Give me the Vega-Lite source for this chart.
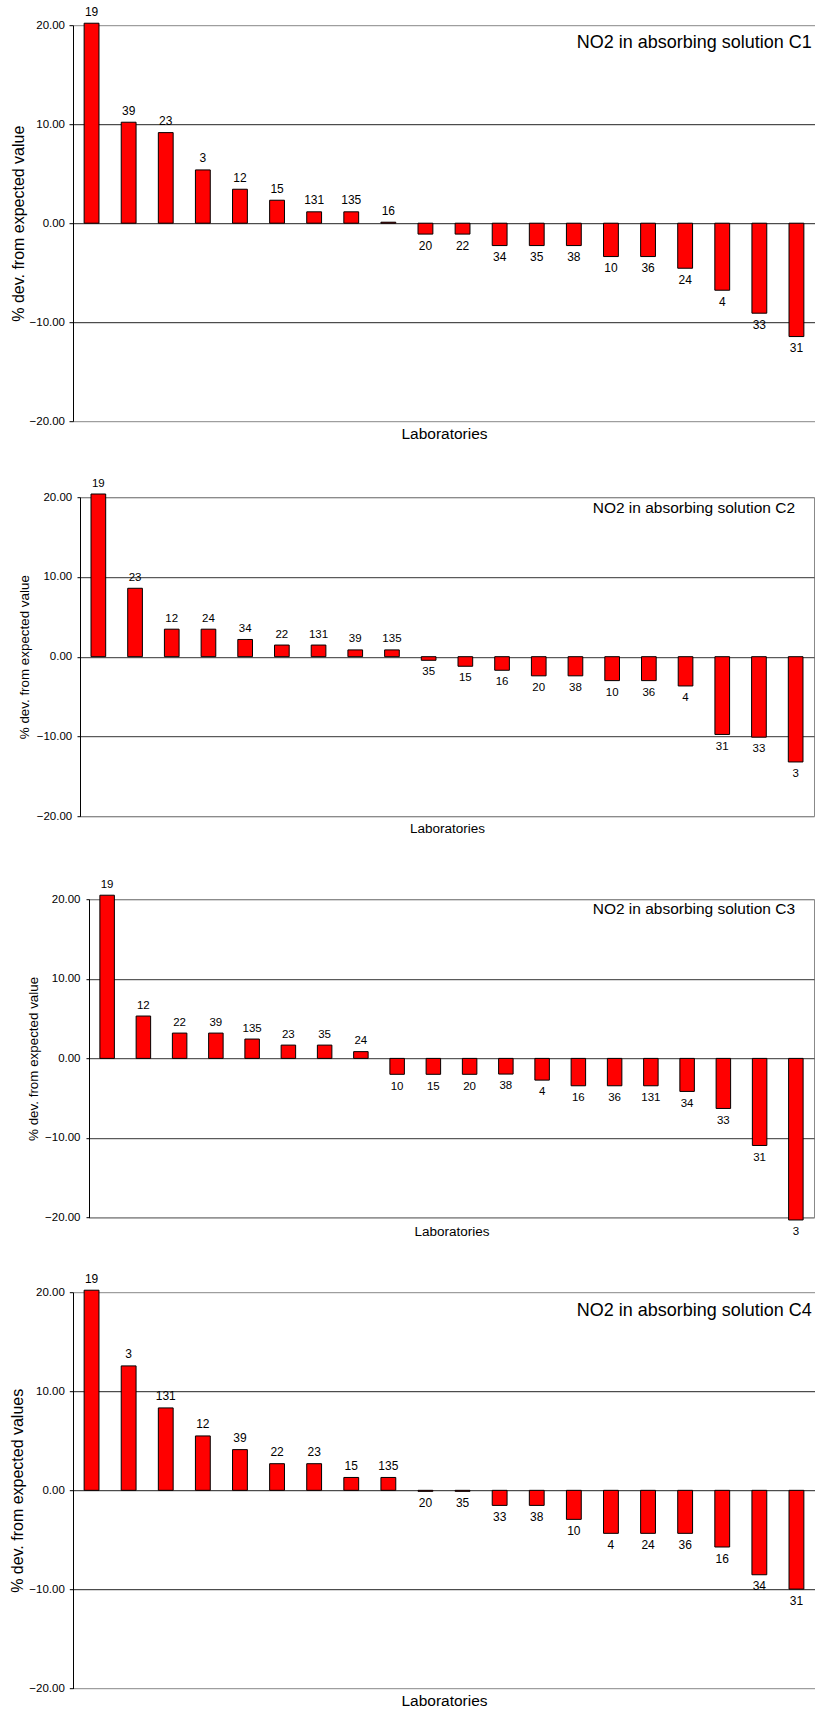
{
  "$schema": "https://vega.github.io/schema/vega-lite/v6.json",
  "background": "white",
  "padding": {"top": 5.2, "left": 0, "right": 0, "bottom": 0},
  "config": {"font": "Liberation Sans", "view": {"stroke": null}},
  "datasets": {
    "c1": [
      {"lab": "19", "dev": 20.2}, {"lab": "39", "dev": 10.2}, {"lab": "23", "dev": 9.15}, {"lab": "3", "dev": 5.38},
      {"lab": "12", "dev": 3.43}, {"lab": "15", "dev": 2.32}, {"lab": "131", "dev": 1.15}, {"lab": "135", "dev": 1.15},
      {"lab": "16", "dev": 0.1}, {"lab": "20", "dev": -1.1}, {"lab": "22", "dev": -1.1}, {"lab": "34", "dev": -2.26},
      {"lab": "35", "dev": -2.26}, {"lab": "38", "dev": -2.26}, {"lab": "10", "dev": -3.37}, {"lab": "36", "dev": -3.37},
      {"lab": "24", "dev": -4.55}, {"lab": "4", "dev": -6.77}, {"lab": "33", "dev": -9.09}, {"lab": "31", "dev": -11.45}
    ],
    "c2": [
      {"lab": "19", "dev": 20.4}, {"lab": "23", "dev": 8.58}, {"lab": "12", "dev": 3.45}, {"lab": "24", "dev": 3.45},
      {"lab": "34", "dev": 2.16}, {"lab": "22", "dev": 1.46}, {"lab": "131", "dev": 1.46}, {"lab": "39", "dev": 0.85},
      {"lab": "135", "dev": 0.85}, {"lab": "35", "dev": -0.45}, {"lab": "15", "dev": -1.2}, {"lab": "16", "dev": -1.7},
      {"lab": "20", "dev": -2.4}, {"lab": "38", "dev": -2.4}, {"lab": "10", "dev": -3.0}, {"lab": "36", "dev": -3.0},
      {"lab": "4", "dev": -3.67}, {"lab": "31", "dev": -9.75}, {"lab": "33", "dev": -10.09}, {"lab": "3", "dev": -13.2}
    ],
    "c3": [
      {"lab": "19", "dev": 20.5}, {"lab": "12", "dev": 5.32}, {"lab": "22", "dev": 3.18}, {"lab": "39", "dev": 3.18},
      {"lab": "135", "dev": 2.43}, {"lab": "23", "dev": 1.67}, {"lab": "35", "dev": 1.67}, {"lab": "24", "dev": 0.85},
      {"lab": "10", "dev": -2.0}, {"lab": "15", "dev": -2.0}, {"lab": "20", "dev": -2.0}, {"lab": "38", "dev": -1.97},
      {"lab": "4", "dev": -2.73}, {"lab": "16", "dev": -3.44}, {"lab": "36", "dev": -3.44}, {"lab": "131", "dev": -3.44},
      {"lab": "34", "dev": -4.15}, {"lab": "33", "dev": -6.29}, {"lab": "31", "dev": -10.94}, {"lab": "3", "dev": -20.3}
    ],
    "c4": [
      {"lab": "19", "dev": 20.2}, {"lab": "3", "dev": 12.56}, {"lab": "131", "dev": 8.32}, {"lab": "12", "dev": 5.49},
      {"lab": "39", "dev": 4.11}, {"lab": "22", "dev": 2.69}, {"lab": "23", "dev": 2.69}, {"lab": "15", "dev": 1.3},
      {"lab": "135", "dev": 1.3}, {"lab": "20", "dev": -0.1}, {"lab": "35", "dev": -0.1}, {"lab": "33", "dev": -1.52},
      {"lab": "38", "dev": -1.52}, {"lab": "10", "dev": -2.93}, {"lab": "4", "dev": -4.34}, {"lab": "24", "dev": -4.34},
      {"lab": "36", "dev": -4.34}, {"lab": "16", "dev": -5.72}, {"lab": "34", "dev": -8.52}, {"lab": "31", "dev": -9.97}
    ]
  },
  "spacing": 0,
  "vconcat": [
    {
      "spacing": 0,
      "hconcat": [
        {"width": 10, "height": 1, "view": {"fill": "white", "stroke": null}, "data": {"values": [{}]}, "mark": {"type": "rect", "opacity": 0}},
        {
          "width": 742, "height": 396,
          "data": {"name": "c1"},
          "title": {"text": "NO2 in absorbing solution C1", "frame": "group", "anchor": "end", "baseline": "middle", "offset": -55.4, "dx": -3.3, "fontSize": 18, "fontWeight": "normal", "color": "black"},
          "encoding": {
            "x": {"field": "lab", "type": "nominal", "sort": null, "scale": {"paddingInner": 0.6, "paddingOuter": 0.3},
              "axis": {"title": ["Laboratories", ""], "labels": false, "ticks": false, "domain": false, "grid": false, "titleFontSize": 15.5, "titleFontWeight": "normal", "titleColor": "black", "titleBaseline": "top", "titleY": 5.7, "titleLineHeight": 33.8}},
            "y": {"field": "dev", "type": "quantitative", "scale": {"domain": [-20, 20], "nice": false},
              "axis": {"title": "% dev. from expected value", "values": [-20, -10, 0, 10, 20], "format": ".2f", "labelFontSize": 11.5, "labelColor": "black", "labelPadding": 4.5, "tickSize": 4, "tickColor": "black", "domainColor": "black", "grid": true, "gridOpacity": 1, "gridColor": {"condition": {"test": "abs(datum.value) === 20", "value": "#888888"}, "value": "#222222"}, "titleFontSize": 16, "titleFontWeight": "normal", "titleColor": "black", "titleAngle": -90, "titleAlign": "center", "titleBaseline": "middle", "titleX": -55}}
          },
          "layer": [
            {"mark": {"type": "bar", "fill": "#ff0000", "stroke": "black", "strokeWidth": 1}},
            {"transform": [{"filter": "datum.dev >= 0"}], "mark": {"type": "text", "baseline": "alphabetic", "dy": -7.5, "fontSize": 12, "color": "black"}, "encoding": {"text": {"field": "lab"}}},
            {"transform": [{"filter": "datum.dev < 0"}], "mark": {"type": "text", "baseline": "alphabetic", "dy": 15.6, "fontSize": 12, "color": "black"}, "encoding": {"text": {"field": "lab"}}}
          ]
        }
      ]
    },
    {
      "spacing": 0,
      "hconcat": [
        {"width": 16.7, "height": 1, "view": {"fill": "white", "stroke": null}, "data": {"values": [{}]}, "mark": {"type": "rect", "opacity": 0}},
        {
          "width": 734, "height": 319,
          "data": {"name": "c2"},
          "view": {"stroke": "#888888", "strokeWidth": 1},
          "title": {"text": "NO2 in absorbing solution C2", "frame": "group", "anchor": "end", "baseline": "middle", "offset": -45.7, "dx": -19, "fontSize": 15.5, "fontWeight": "normal", "color": "black"},
          "encoding": {
            "x": {"field": "lab", "type": "nominal", "sort": null, "scale": {"paddingInner": 0.6, "paddingOuter": 0.3},
              "axis": {"title": ["Laboratories", ""], "labels": false, "ticks": false, "domain": false, "grid": false, "titleFontSize": 13.5, "titleFontWeight": "normal", "titleColor": "black", "titleBaseline": "top", "titleY": 5.8, "titleLineHeight": 41.85}},
            "y": {"field": "dev", "type": "quantitative", "scale": {"domain": [-20, 20], "nice": false},
              "axis": {"title": "% dev. from expected value", "values": [-20, -10, 0, 10, 20], "format": ".2f", "labelFontSize": 11.5, "labelColor": "black", "labelPadding": 5.3, "tickSize": 3, "tickColor": "black", "domainColor": "black", "grid": true, "gridOpacity": 1, "gridColor": {"condition": {"test": "abs(datum.value) === 20", "value": "#888888"}, "value": "#333333"}, "titleFontSize": 13.4, "titleFontWeight": "normal", "titleColor": "black", "titleAngle": -90, "titleAlign": "center", "titleBaseline": "middle", "titleX": -55.3}}
          },
          "layer": [
            {"mark": {"type": "bar", "fill": "#ff0000", "stroke": "black", "strokeWidth": 1}},
            {"transform": [{"filter": "datum.dev >= 0"}], "mark": {"type": "text", "baseline": "alphabetic", "dy": -7.5, "fontSize": 11.5, "color": "black"}, "encoding": {"text": {"field": "lab"}}},
            {"transform": [{"filter": "datum.dev < 0"}], "mark": {"type": "text", "baseline": "alphabetic", "dy": 15.2, "fontSize": 11.5, "color": "black"}, "encoding": {"text": {"field": "lab"}}}
          ]
        }
      ]
    },
    {
      "spacing": 0,
      "hconcat": [
        {"width": 25, "height": 1, "view": {"fill": "white", "stroke": null}, "data": {"values": [{}]}, "mark": {"type": "rect", "opacity": 0}},
        {
          "width": 725, "height": 318.4,
          "data": {"name": "c3"},
          "view": {"stroke": "#888888", "strokeWidth": 1},
          "title": {"text": "NO2 in absorbing solution C3", "frame": "group", "anchor": "end", "baseline": "middle", "offset": -45.9, "dx": -19, "fontSize": 15.5, "fontWeight": "normal", "color": "black"},
          "encoding": {
            "x": {"field": "lab", "type": "nominal", "sort": null, "scale": {"paddingInner": 0.6, "paddingOuter": 0.3},
              "axis": {"title": ["Laboratories", ""], "labels": false, "ticks": false, "domain": false, "grid": false, "titleFontSize": 13.5, "titleFontWeight": "normal", "titleColor": "black", "titleBaseline": "top", "titleY": 6.8, "titleLineHeight": 33.75}},
            "y": {"field": "dev", "type": "quantitative", "scale": {"domain": [-20, 20], "nice": false},
              "axis": {"title": "% dev. from expected value", "values": [-20, -10, 0, 10, 20], "format": ".2f", "labelFontSize": 11.5, "labelColor": "black", "labelPadding": 6, "tickSize": 3, "tickColor": "black", "domainColor": "black", "grid": true, "gridOpacity": 1, "gridColor": {"condition": {"test": "abs(datum.value) === 20", "value": "#888888"}, "value": "#333333"}, "titleFontSize": 13.4, "titleFontWeight": "normal", "titleColor": "black", "titleAngle": -90, "titleAlign": "center", "titleBaseline": "middle", "titleX": -56}}
          },
          "layer": [
            {"mark": {"type": "bar", "fill": "#ff0000", "stroke": "black", "strokeWidth": 1}},
            {"transform": [{"filter": "datum.dev >= 0"}], "mark": {"type": "text", "baseline": "alphabetic", "dy": -7.5, "fontSize": 11.5, "color": "black"}, "encoding": {"text": {"field": "lab"}}},
            {"transform": [{"filter": "datum.dev < 0"}], "mark": {"type": "text", "baseline": "alphabetic", "dy": 15.2, "fontSize": 11.5, "color": "black"}, "encoding": {"text": {"field": "lab"}}}
          ]
        }
      ]
    },
    {
      "spacing": 0,
      "hconcat": [
        {"width": 8.7, "height": 1, "view": {"fill": "white", "stroke": null}, "data": {"values": [{}]}, "mark": {"type": "rect", "opacity": 0}},
        {
          "width": 742, "height": 396.3,
          "data": {"name": "c4"},
          "title": {"text": "NO2 in absorbing solution C4", "frame": "group", "anchor": "end", "baseline": "middle", "offset": -56.3, "dx": -3.3, "fontSize": 18, "fontWeight": "normal", "color": "black"},
          "encoding": {
            "x": {"field": "lab", "type": "nominal", "sort": null, "scale": {"paddingInner": 0.6, "paddingOuter": 0.3},
              "axis": {"title": "Laboratories", "labels": false, "ticks": false, "domain": false, "grid": false, "titleFontSize": 15.5, "titleFontWeight": "normal", "titleColor": "black", "titleBaseline": "top", "titleY": 5.5}},
            "y": {"field": "dev", "type": "quantitative", "scale": {"domain": [-20, 20], "nice": false},
              "axis": {"title": "% dev. from expected values", "values": [-20, -10, 0, 10, 20], "format": ".2f", "labelFontSize": 11.5, "labelColor": "black", "labelPadding": 5, "tickSize": 3.7, "tickColor": "black", "domainColor": "black", "grid": true, "gridOpacity": 1, "gridColor": {"condition": {"test": "abs(datum.value) === 20", "value": "#888888"}, "value": "#222222"}, "titleFontSize": 16, "titleFontWeight": "normal", "titleColor": "black", "titleAngle": -90, "titleAlign": "center", "titleBaseline": "middle", "titleX": -56}}
          },
          "layer": [
            {"mark": {"type": "bar", "fill": "#ff0000", "stroke": "black", "strokeWidth": 1}},
            {"transform": [{"filter": "datum.dev >= 0"}], "mark": {"type": "text", "baseline": "alphabetic", "dy": -7.5, "fontSize": 12, "color": "black"}, "encoding": {"text": {"field": "lab"}}},
            {"transform": [{"filter": "datum.dev < 0"}], "mark": {"type": "text", "baseline": "alphabetic", "dy": 15.6, "fontSize": 12, "color": "black"}, "encoding": {"text": {"field": "lab"}}}
          ]
        }
      ]
    }
  ]
}
